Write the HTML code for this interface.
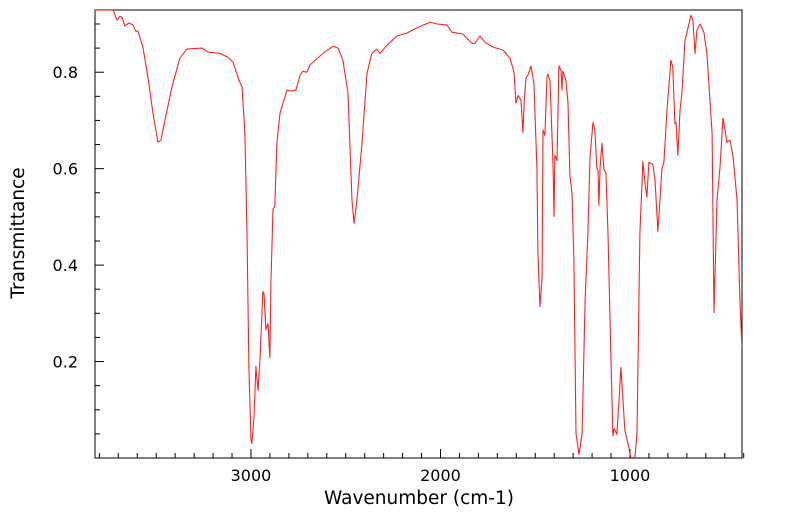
<!DOCTYPE html>
<html><head><meta charset="utf-8"><style>
html,body{margin:0;padding:0;background:#fff;}
svg{display:block;font-family:"DejaVu Sans","Liberation Sans",sans-serif;}
</style></head><body>
<svg id="chart" width="799" height="516" viewBox="0 0 799 516">
<defs><clipPath id="clip"><rect x="95" y="10" width="647" height="448"/></clipPath></defs>
<rect x="95" y="10" width="647" height="448" fill="#fff" stroke="#000" stroke-width="1"/>
<g id="xticks"></g>
<g id="yticks"></g>
<text x="419" y="504" font-size="18.5" text-anchor="middle">Wavenumber (cm-1)</text>
<text x="24" y="233" font-size="18.5" text-anchor="middle" transform="rotate(-90 24 233)">Transmittance</text>
<path id="spectrum" fill="none" stroke="#ff2020" stroke-width="1.1" stroke-linejoin="round" clip-path="url(#clip)"/>
</svg>
<script>
const wavenumbers=[3823,3728,3707,3691,3681,3665,3644,3623,3607,3596,3570,3544,3517,3491,3475,3454,3417,3375,3338,3259,3227,3164,3121,3095,3063,3047,3032,3021,3011,3000,2995,2984,2974,2963,2953,2937,2931,2921,2910,2900,2895,2884,2874,2863,2847,2810,2794,2763,2741,2726,2705,2689,2620,2567,2541,2515,2488,2467,2456,2441,2414,2388,2362,2335,2319,2282,2230,2177,2119,2055,2018,1966,1939,1881,1834,1818,1792,1765,1723,1670,1633,1612,1602,1591,1575,1565,1559,1549,1538,1522,1507,1491,1486,1475,1464,1459,1449,1438,1433,1422,1406,1401,1396,1385,1375,1364,1359,1354,1338,1327,1317,1306,1296,1285,1269,1253,1237,1222,1211,1195,1185,1175,1169,1164,1158,1148,1137,1127,1116,1100,1090,1084,1069,1058,1048,1037,1027,1011,995,974,963,948,932,921,911,900,879,868,853,842,831,821,805,784,774,763,757,747,736,726,710,678,668,657,647,631,610,594,567,557,541,525,509,488,472,456,435,420,409];
const transmittance=[0.929,0.929,0.908,0.916,0.914,0.896,0.902,0.898,0.885,0.885,0.852,0.790,0.715,0.655,0.659,0.700,0.769,0.829,0.848,0.850,0.842,0.839,0.831,0.821,0.783,0.769,0.673,0.466,0.188,0.036,0.030,0.084,0.190,0.140,0.202,0.345,0.341,0.266,0.279,0.208,0.362,0.516,0.522,0.653,0.715,0.763,0.761,0.763,0.794,0.802,0.800,0.815,0.839,0.854,0.850,0.825,0.756,0.534,0.487,0.534,0.653,0.798,0.839,0.848,0.839,0.856,0.875,0.881,0.893,0.904,0.900,0.898,0.883,0.879,0.860,0.860,0.875,0.862,0.852,0.846,0.829,0.800,0.736,0.752,0.742,0.675,0.736,0.788,0.794,0.813,0.777,0.603,0.424,0.314,0.374,0.680,0.669,0.790,0.796,0.783,0.603,0.501,0.628,0.617,0.813,0.804,0.763,0.802,0.783,0.736,0.586,0.549,0.410,0.051,0.007,0.051,0.327,0.466,0.624,0.696,0.680,0.601,0.597,0.524,0.603,0.653,0.597,0.592,0.466,0.202,0.046,0.061,0.049,0.119,0.188,0.119,0.057,0.030,0.001,0.001,0.051,0.466,0.615,0.570,0.541,0.613,0.609,0.576,0.470,0.534,0.601,0.613,0.721,0.825,0.810,0.694,0.696,0.628,0.721,0.756,0.866,0.918,0.908,0.839,0.887,0.900,0.883,0.839,0.673,0.302,0.534,0.603,0.705,0.655,0.659,0.624,0.534,0.327,0.227];
const xTickLabels=[3000,2000,1000];
const yTickLabels=[0.2,0.4,0.6,0.8];
const X0=95,X1=742,Y0=10,Y1=458,WMAX=3823,WMIN=409,TMIN=0,TMAX=0.929;
function xs(w){return X0+(WMAX-w)/(WMAX-WMIN)*(X1-X0);}
function ys(t){return Y1-(t-TMIN)/(TMAX-TMIN)*(Y1-Y0);}
const NS='http://www.w3.org/2000/svg';
let d='';
for(let i=0;i<wavenumbers.length;i++){d+=(i?'L':'M')+xs(wavenumbers[i]).toFixed(1)+' '+ys(transmittance[i]).toFixed(1);}
document.getElementById('spectrum').setAttribute('d',d);
const gx=document.getElementById('xticks');
for(let w=400;w<=3800;w+=100){
  const major=w%1000===0;const x=xs(w);
  const l=document.createElementNS(NS,'line');
  l.setAttribute('x1',x);l.setAttribute('x2',x);l.setAttribute('y1',Y1);l.setAttribute('y2',Y1-(major?9:5));
  l.setAttribute('stroke','#000');
  
  
  gx.appendChild(l);
}
xTickLabels.forEach(v=>{
  const t=document.createElementNS(NS,'text');
  t.setAttribute('x',xs(v));t.setAttribute('y',481);t.setAttribute('font-size','16');t.setAttribute('text-anchor','middle');
  t.textContent=v;
  
  
  gx.appendChild(t);
});
const gy=document.getElementById('yticks');
for(let k=1;k<=18;k++){
  const v=k*0.05;if(v>TMAX)break;const y=ys(v);const major=k%4===0;
  const l=document.createElementNS(NS,'line');
  l.setAttribute('x1',X0);l.setAttribute('x2',X0+(major?9:5));l.setAttribute('y1',y);l.setAttribute('y2',y);
  l.setAttribute('stroke','#000');
  
  
  gy.appendChild(l);
}
yTickLabels.forEach(v=>{
  const t=document.createElementNS(NS,'text');
  t.setAttribute('x',78);t.setAttribute('y',ys(v)+6);t.setAttribute('font-size','16');t.setAttribute('text-anchor','end');
  t.textContent=v.toFixed(1);
  
  
  gy.appendChild(t);
});
</script>
</body></html>
